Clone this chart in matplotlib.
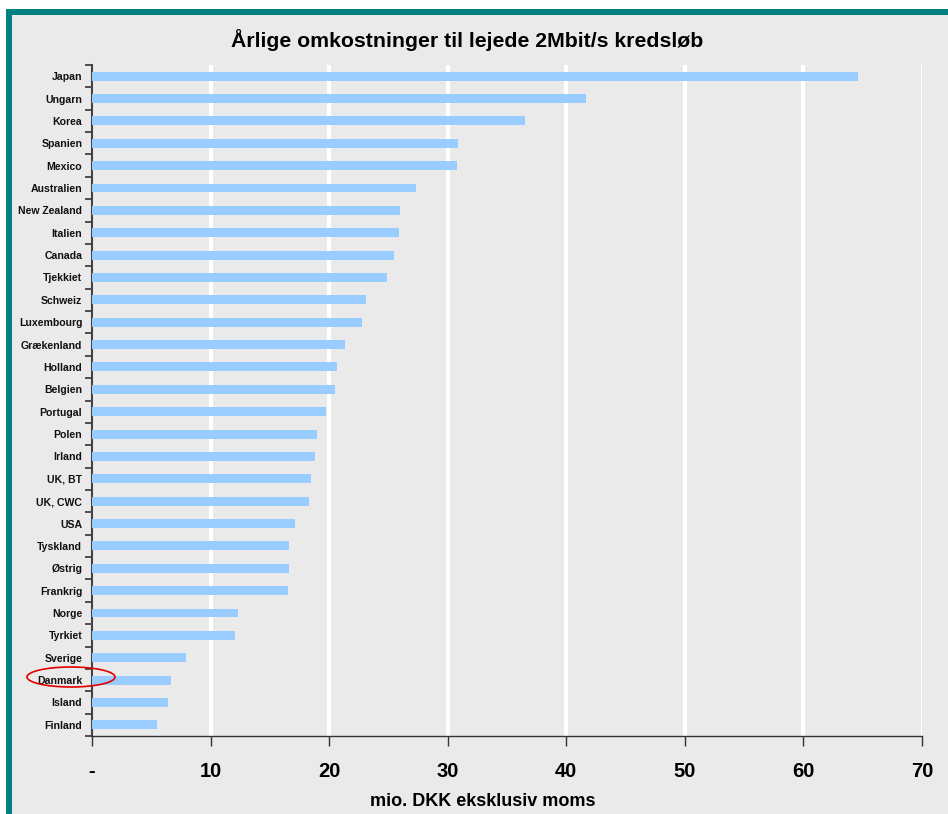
import matplotlib
matplotlib.use("Agg")
import matplotlib.pyplot as plt
from matplotlib.patches import Rectangle, Ellipse

countries = ["Japan", "Ungarn", "Korea", "Spanien", "Mexico", "Australien",
             "New Zealand", "Italien", "Canada", "Tjekkiet", "Schweiz",
             "Luxembourg", "Grækenland", "Holland", "Belgien", "Portugal",
             "Polen", "Irland", "UK, BT", "UK, CWC", "USA", "Tyskland",
             "Østrig", "Frankrig", "Norge", "Tyrkiet", "Sverige", "Danmark",
             "Island", "Finland"]
values = [64.6, 41.7, 36.5, 30.9, 30.8, 27.3, 26.0, 25.9, 25.5, 24.9, 23.1,
          22.8, 21.3, 20.7, 20.5, 19.7, 19.0, 18.8, 18.5, 18.3, 17.1, 16.6,
          16.6, 16.5, 12.3, 12.1, 7.9, 6.7, 6.4, 5.5]
xticks = [0, 10, 20, 30, 40, 50, 60, 70]
xticklabels = ["-", "10", "20", "30", "40", "50", "60", "70"]
title = "Årlige omkostninger til lejede 2Mbit/s kredsløb"
xlabel = "mio. DKK eksklusiv moms"

W, H = 948, 814
plt.rcParams['font.family'] = ['Liberation Sans', 'DejaVu Sans']
fig = plt.figure(figsize=(W / 100, H / 100), dpi=100, facecolor="white")

# background panel and teal frame
fig.patches.append(Rectangle((12 / W, 0), 1 - 12 / W, 1 - 15 / H,
                             transform=fig.transFigure, facecolor="#EAEAEA",
                             edgecolor="none", zorder=-10))
fig.patches.append(Rectangle((6 / W, 0), 6 / W, 1 - 9 / H,
                             transform=fig.transFigure, facecolor="#008080",
                             edgecolor="none", zorder=-9))
fig.patches.append(Rectangle((6 / W, 1 - 15 / H), 1 - 6 / W, 6 / H,
                             transform=fig.transFigure, facecolor="#008080",
                             edgecolor="none", zorder=-9))

left, right, top, bottom = 92, 922, 65, 736
ax = fig.add_axes([left / W, (H - bottom) / H, (right - left) / W, (bottom - top) / H])
ax.set_facecolor("none")

y = list(range(len(countries)))
ax.barh(y, values, height=0.4, color="#99CCFF", zorder=3)
ax.set_ylim(len(countries) - 0.5, -0.5)
ax.set_xlim(0, 70)

for xv in xticks[1:]:
    ax.axvline(xv, color="white", lw=3 if xv < 70 else 1.5, zorder=1)

ax.set_yticks(y)
ax.set_yticklabels(countries, fontsize=7.6, fontweight="bold", color="#111111")
ax.tick_params(axis="y", which="major", length=0, pad=7)
ax.set_yticks([k + 0.5 for k in range(-1, len(countries))], minor=True)
ax.tick_params(axis="y", which="minor", length=5, width=1.2, direction="out", color="#333333")

ax.set_xticks(xticks)
ax.set_xticklabels(xticklabels, fontsize=14.5, fontweight="bold")
ax.tick_params(axis="x", length=7, width=1, direction="out", color="#333333", pad=12)

for s in ["top", "right"]:
    ax.spines[s].set_visible(False)
ax.spines["left"].set_color("#444444")
ax.spines["left"].set_linewidth(1.5)
ax.spines["bottom"].set_color("#333333")
ax.spines["bottom"].set_linewidth(1)

fig.text(467 / W, 1 - 40 / H, title, ha="center", va="center",
         fontsize=15.3, fontweight="bold")
fig.text(483 / W, 1 - 802 / H, xlabel, ha="center", va="center",
         fontsize=13, fontweight="bold")

fig.patches.append(Ellipse((71 / W, 1 - 677 / H), 88 / W, 20 / H,
                           transform=fig.transFigure, facecolor="none",
                           edgecolor="#E00000", lw=1.2, zorder=10))

fig.savefig("out.png", dpi=100, facecolor="white")
